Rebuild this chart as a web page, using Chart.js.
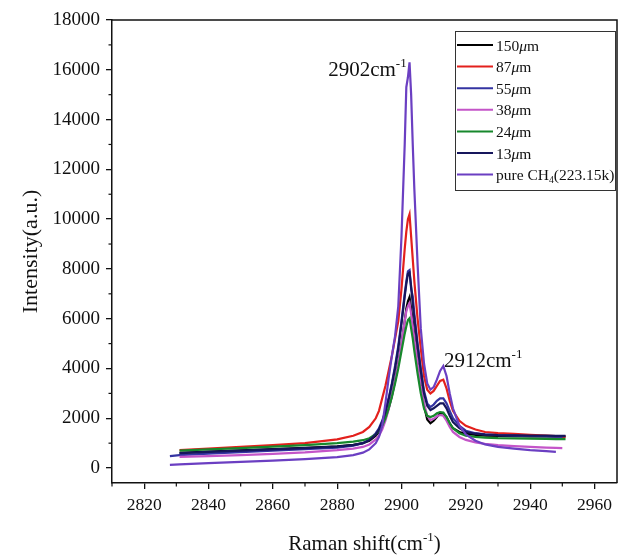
<!DOCTYPE html>
<html>
<head>
<meta charset="utf-8">
<script src="https://cdn.jsdelivr.net/npm/chart.js@4.4.1/dist/chart.umd.min.js"></script>
<style>
  html, body { margin: 0; padding: 0; background: #fff; }
  canvas { display: block; }
</style>
</head>
<body>
<canvas id="myChart" width="619" height="556"></canvas>
<script>
// Raman shift grid (cm-1)
const shifts = [2828, 2831, 2840, 2850, 2860, 2870, 2880, 2885, 2888, 2890,
  2892, 2893, 2894, 2895, 2896, 2897, 2898, 2899, 2900, 2901,
  2901.5, 2902, 2902.5, 2903, 2903.5, 2904, 2905, 2906, 2907, 2908,
  2909, 2910, 2911, 2912, 2913, 2914, 2915, 2916, 2918, 2920,
  2923, 2926, 2930, 2935, 2940, 2945, 2948, 2950, 2951];

const labels = ["150μm", "87μm", "55μm", "38μm", "24μm", "13μm", "pure CH4(223.15k)"];

const s150 = [null, 610, 660, 710, 760, 810, 870, 930, 1000, 1100,
  1300, 1450, 1700, 2000, 2400, 2900, 3500, 4200, 5000, 5900,
  6400, 6700, 6870, 6400, 5900, 5300, 4200, 3300, 2500, 1950,
  1800, 1900, 2050, 2200, 2200, 2050, 1800, 1600, 1450, 1380,
  1330, 1300, 1290, 1280, 1270, 1270, 1260, 1260, 1260];
const s87 = [null, 720, 780, 850, 920, 1000, 1150, 1300, 1450, 1650,
  2000, 2300, 2800, 3300, 3900, 4500, 5200, 5900, 7200, 8800,
  9500, 10000, 10200, 9300, 8400, 7500, 6000, 4800, 3700, 3150,
  3000, 3100, 3300, 3500, 3550, 3200, 2700, 2300, 1900, 1700,
  1550, 1450, 1400, 1370, 1330, 1300, 1280, 1270, 1260];
const s55 = [480, 520, 580, 640, 700, 760, 820, 900, 1000, 1150,
  1400, 1600, 1900, 2300, 2800, 3400, 4100, 4900, 5900, 7000,
  7500, 7900, 7950, 7200, 6900, 6200, 5000, 4000, 3100, 2600,
  2450, 2550, 2700, 2800, 2800, 2600, 2300, 2000, 1700, 1500,
  1400, 1350, 1320, 1300, 1280, 1270, 1260, 1250, null];
const s38 = [null, 450, 480, 520, 570, 630, 720, 780, 850, 950,
  1150, 1300, 1550, 1900, 2350, 2900, 3500, 4200, 5000, 5900,
  6300, 6500, 6630, 6200, 5700, 5200, 4200, 3300, 2600, 2100,
  1930, 1980, 2080, 2130, 2100, 1900, 1650, 1450, 1250, 1130,
  1030, 970, 920, 880, 850, 820, 810, 800, null];
const s24 = [null, 700, 750, 800, 860, 920, 1000, 1060, 1120, 1200,
  1350, 1500, 1700, 2000, 2400, 2850, 3400, 4000, 4700, 5400,
  5700, 5950, 6020, 5600, 5200, 4700, 3800, 3000, 2400, 2100,
  2050, 2100, 2200, 2250, 2230, 2050, 1800, 1600, 1400, 1300,
  1250, 1220, 1200, 1190, 1180, 1170, 1165, 1160, 1160];
const s13 = [null, 600, 650, 700, 750, 800, 860, 920, 1000, 1120,
  1350, 1550, 1850, 2250, 2750, 3350, 4000, 4800, 5800, 6900,
  7400, 7800, 7850, 7300, 6600, 6000, 4900, 3900, 3000, 2500,
  2330, 2400, 2500, 2600, 2600, 2400, 2100, 1850, 1600, 1450,
  1380, 1340, 1320, 1310, 1300, 1300, 1290, 1290, 1290];
const pureCH4 = [130, 150, 200, 250, 300, 360, 440, 520, 620, 750,
  1000, 1250, 1700, 2600, 3600, 4500, 5300, 6500, 9300, 13000,
  15300, 15700, 16300, 15000, 13000, 11200, 8200, 5600, 4200, 3400,
  3150, 3250, 3550, 3900, 4100, 3700, 3000, 2400, 1700, 1350,
  1100, 950, 850, 780, 720, 680, 650, null, null];

const xTicks = [2820, 2840, 2860, 2880, 2900, 2920, 2940, 2960];
const yTicks = [0, 2000, 4000, 6000, 8000, 10000, 12000, 14000, 16000, 18000];

const colors = ["#000000", "#e3201c", "#3434a2", "#c455c8", "#17882c", "#16165c", "#6b3fc2"];
const series = [s150, s87, s55, s38, s24, s13, pureCH4];

const serif = "'Liberation Serif', 'Times New Roman', serif";
const ink = "#111";

function toPoints(vals) {
  return shifts.map((x, i) => ({ x: x, y: vals[i] }));
}

// rich text: parts [{t, it, sub, sup}]
function richWidth(ctx, parts, size) {
  let w = 0;
  parts.forEach(p => {
    const s = (p.sub || p.sup) ? size * 0.62 : size;
    ctx.font = (p.it ? "italic " : "") + s + "px " + serif;
    w += ctx.measureText(p.t).width;
  });
  return w;
}
function drawRich(ctx, parts, x, y, size) {
  let cx = x;
  ctx.textBaseline = "alphabetic";
  ctx.textAlign = "left";
  parts.forEach(p => {
    const s = (p.sub || p.sup) ? size * 0.62 : size;
    ctx.font = (p.it ? "italic " : "") + s + "px " + serif;
    let dy = 0;
    if (p.sup) dy = -size * 0.42;
    if (p.sub) dy = size * 0.2;
    ctx.fillText(p.t, cx, y + dy);
    cx += ctx.measureText(p.t).width;
  });
}
function legendParts(label) {
  if (label.indexOf("CH4") >= 0) {
    return [{ t: "pure CH" }, { t: "4", sub: true }, { t: "(223.15k)" }];
  }
  const n = label.replace("μm", "");
  return [{ t: n }, { t: "μ", it: true }, { t: "m" }];
}

const decor = {
  id: "decor",
  afterDraw(chart) {
    const ctx = chart.ctx;
    const a = chart.chartArea;
    const xs = chart.scales.x, ys = chart.scales.y;
    ctx.save();
    ctx.strokeStyle = ink;
    ctx.fillStyle = ink;
    ctx.lineWidth = 1.5;
    // frame top and right
    ctx.beginPath();
    ctx.moveTo(a.left, a.top); ctx.lineTo(a.right, a.top); ctx.lineTo(a.right, a.bottom);
    ctx.stroke();
    // minor ticks
    ctx.lineWidth = 1.2;
    for (let v = 2810; v <= 2966; v += 20) {
      const px = xs.getPixelForValue(v);
      ctx.beginPath(); ctx.moveTo(px, a.bottom); ctx.lineTo(px, a.bottom + 3.5); ctx.stroke();
    }
    for (let v = 1000; v <= 17000; v += 2000) {
      const py = ys.getPixelForValue(v);
      ctx.beginPath(); ctx.moveTo(a.left, py); ctx.lineTo(a.left - 3.5, py); ctx.stroke();
    }
    // axis titles
    const xt = [{ t: "Raman shift(cm" }, { t: "-1", sup: true }, { t: ")" }];
    const xw = richWidth(ctx, xt, 21);
    drawRich(ctx, xt, (a.left + a.right) / 2 - xw / 2, 550, 21);
    ctx.save();
    ctx.translate(37, (a.top + a.bottom) / 2);
    ctx.rotate(-Math.PI / 2);
    ctx.font = "22px " + serif;
    ctx.textAlign = "center";
    ctx.textBaseline = "alphabetic";
    ctx.fillText("Intensity(a.u.)", 0, 0);
    ctx.restore();
    // peak annotations
    const p1 = [{ t: "2902cm" }, { t: "-1", sup: true }];
    const w1 = richWidth(ctx, p1, 21);
    drawRich(ctx, p1, xs.getPixelForValue(2901.6) - w1, ys.getPixelForValue(15750), 21);
    const p2 = [{ t: "2912cm" }, { t: "-1", sup: true }];
    drawRich(ctx, p2, xs.getPixelForValue(2913.2), ys.getPixelForValue(4050), 21);
    // legend
    const lx = a.right - 162, ly = a.top + 11, lw = 160, lh = 159;
    ctx.lineWidth = 1;
    ctx.strokeStyle = "#333";
    ctx.strokeRect(lx + 0.5, ly + 0.5, lw, lh);
    chart.data.datasets.forEach((ds, i) => {
      const ry = ly + 14 + i * 21.6;
      ctx.strokeStyle = ds.borderColor;
      ctx.lineWidth = 2;
      ctx.beginPath(); ctx.moveTo(lx + 2, ry); ctx.lineTo(lx + 38, ry); ctx.stroke();
      ctx.fillStyle = ink;
      drawRich(ctx, legendParts(ds.label), lx + 41, ry + 5.5, 15.5);
    });
    ctx.restore();
  }
};

const ctx = document.getElementById("myChart");
new Chart(ctx, {
  type: "line",
  data: {
    datasets: series.map((vals, i) => ({
      label: labels[i],
      data: toPoints(vals),
      borderColor: colors[i],
      backgroundColor: colors[i],
      borderWidth: 2.2,
      pointRadius: 0,
      tension: 0,
      fill: false,
      order: i === 6 ? 0 : 7 - i,
    })),
  },
  options: {
    responsive: false,
    animation: false,
    devicePixelRatio: 1,
    layout: { padding: { top: 20, right: 2, left: 0, bottom: 0 } },
    plugins: {
      legend: { display: false },
      tooltip: { enabled: false },
    },
    scales: {
      x: {
        type: "linear",
        min: 2810,
        max: 2967,
        afterBuildTicks: (s) => { s.ticks = xTicks.map(v => ({ value: v })); },
        afterFit: (s) => { s.height = 73; },
        grid: { display: true, drawOnChartArea: false, tickLength: 6, color: ink, lineWidth: 1.3 },
        border: { display: true, color: ink, width: 1.5 },
        ticks: {
          autoSkip: false, maxRotation: 0, padding: 6, color: ink,
          font: { family: serif, size: 17.5 },
          callback: (v) => String(v),
        },
      },
      y: {
        type: "linear",
        min: -600,
        max: 18000,
        afterBuildTicks: (s) => { s.ticks = yTicks.map(v => ({ value: v })); },
        afterFit: (s) => { s.width = 112; },
        grid: { display: true, drawOnChartArea: false, tickLength: 6, color: ink, lineWidth: 1.3 },
        border: { display: true, color: ink, width: 1.5 },
        ticks: {
          autoSkip: false, padding: 6, color: ink,
          font: { family: serif, size: 19 },
          callback: (v) => String(v),
        },
      },
    },
  },
  plugins: [decor],
});
</script>
</body>
</html>
